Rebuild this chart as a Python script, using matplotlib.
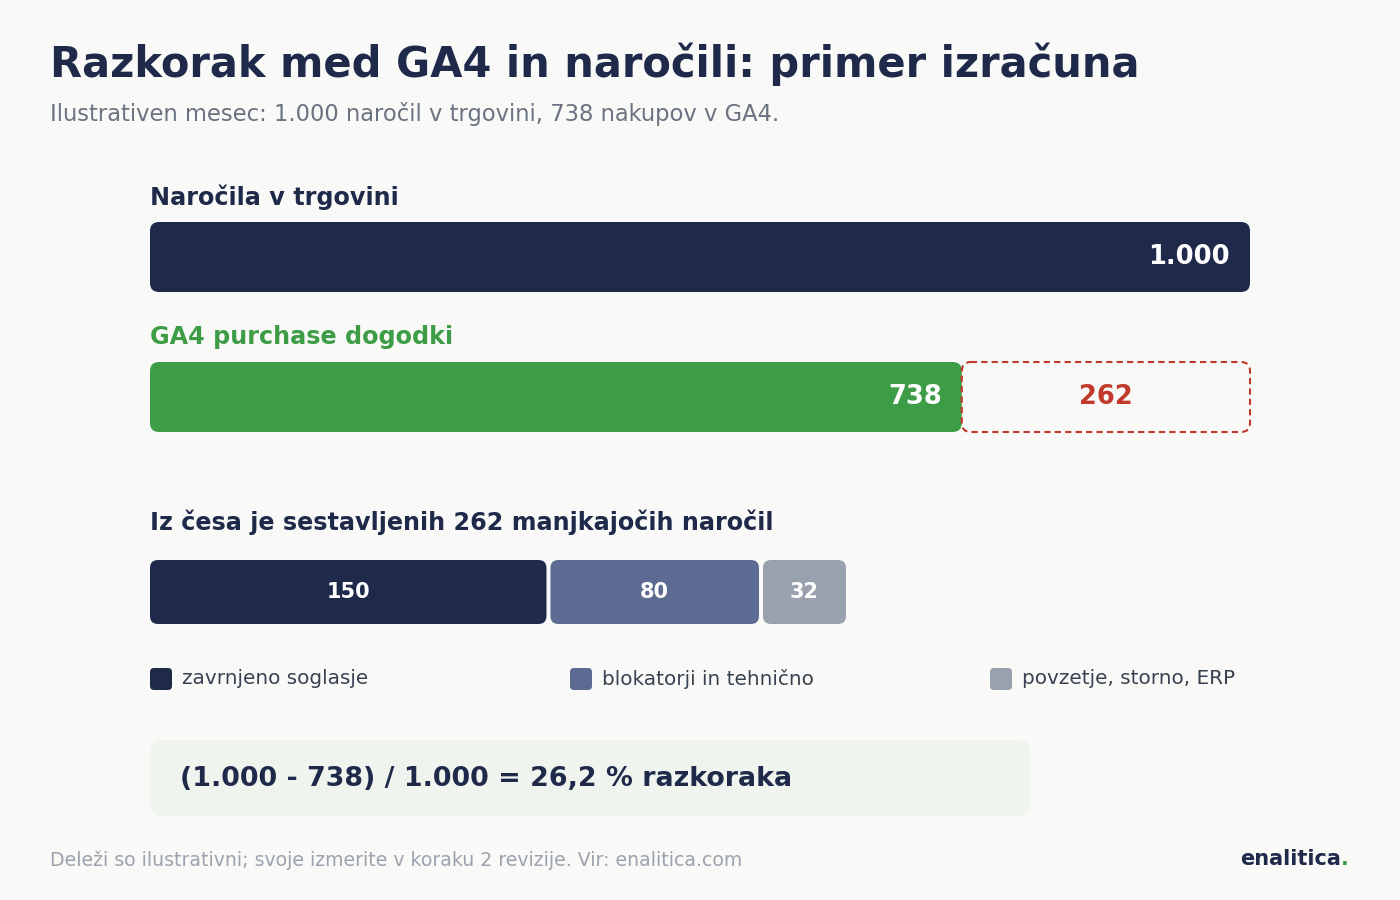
import matplotlib.pyplot as plt
from matplotlib.patches import FancyBboxPatch

plt.rcParams["font.family"] = ["DejaVu Sans"]

# data
total_orders = 1000
ga4_purchases = 738
missing = total_orders - ga4_purchases
parts = [150, 80, 32]
part_labels = ["zavrnjeno soglasje", "blokatorji in tehnično", "povzetje, storno, ERP"]
part_colors = ["#1f2a4b", "#5d6b92", "#9aa1ae"]

NAVY = "#1f2a4b"
GREEN = "#3d9c46"
RED = "#c0392b"
BG = "#f9f9f7"

fig = plt.figure(figsize=(14, 9), dpi=100)
fig.patch.set_facecolor(BG)
base = fig.add_axes([0, 0, 1, 1])
base.set_xlim(0, 1400)
base.set_ylim(900, 0)
base.axis("off")

# scale axes (invisible) used to map values to positions
ax_top = fig.add_axes([150 / 1400, 0.5, 1100 / 1400, 0.1])
ax_top.set_xlim(0, total_orders)
ax_top.axis("off")
ax_brk = fig.add_axes([150 / 1400, 0.3, 696 / 1400, 0.1])
ax_brk.set_xlim(0, missing)
ax_brk.axis("off")


def to_px(ax, v):
    disp = ax.transData.transform((v, 0))
    return base.transData.inverted().transform(disp)[0]


def rbar(x0, x1, y0, h, color, r=9, **kw):
    p = FancyBboxPatch((x0 + r, y0 + r), x1 - x0 - 2 * r, h - 2 * r,
                       boxstyle=f"round,pad={r}", facecolor=color,
                       edgecolor=kw.pop("ec", "none"), **kw)
    base.add_patch(p)


# title
base.text(50, 64, "Razkorak med GA4 in naročili: primer izračuna", fontsize=30,
          fontweight="bold", color=NAVY, va="center")
base.text(50, 114, "Ilustrativen mesec: 1.000 naročil v trgovini, 738 nakupov v GA4.",
          fontsize=16.3, color="#6b7280", va="center")

# store orders
base.text(150, 197, "Naročila v trgovini", fontsize=17.2, fontweight="bold", color=NAVY, va="center")
x0 = to_px(ax_top, 0)
x1 = to_px(ax_top, total_orders)
rbar(x0, x1, 222, 70, NAVY)
base.text(x1 - 20, 257, f"{total_orders:,}".replace(",", "."), fontsize=18.5,
          fontweight="bold", color="white", ha="right", va="center")

# GA4
base.text(150, 337, "GA4 purchase dogodki", fontsize=17.2, fontweight="bold", color=GREEN, va="center")
xg = to_px(ax_top, ga4_purchases)
rbar(x0, xg, 362, 70, GREEN)
base.text(xg - 20, 397, str(ga4_purchases), fontsize=18.5, fontweight="bold",
          color="white", ha="right", va="center")
rbar(xg, x1, 362, 70, "none", ec=RED, linestyle=(0, (3, 2)), linewidth=1.5)
base.text((xg + x1) / 2, 397, str(missing), fontsize=18.5, fontweight="bold",
          color=RED, ha="center", va="center")

# breakdown
base.text(150, 522, f"Iz česa je sestavljenih {missing} manjkajočih naročil", fontsize=17.2,
          fontweight="bold", color=NAVY, va="center")
cum = 0
for i, (v, c) in enumerate(zip(parts, part_colors)):
    a = to_px(ax_brk, cum) + (2 if i > 0 else 0)
    b = to_px(ax_brk, cum + v) - (2 if i < len(parts) - 1 else 0)
    rbar(a, b, 560, 64, c, r=8)
    base.text((a + b) / 2, 592, str(v), fontsize=15, fontweight="bold",
              color="white", ha="center", va="center")
    cum += v

# legend
for i, (lab, c) in enumerate(zip(part_labels, part_colors)):
    lx = 150 + i * 420
    rbar(lx, lx + 22, 668, 22, c, r=4)
    base.text(lx + 32, 679, lab, fontsize=14.4, color="#374151", va="center")

# formula box
rbar(150, 1030, 740, 76, "#eff4ee", r=12)
base.text(180, 779, "(1.000 - 738) / 1.000 = 26,2 % razkoraka", fontsize=19.4,
          fontweight="bold", color=NAVY, va="center")

# footer
base.text(50, 860, "Deleži so ilustrativni; svoje izmerite v koraku 2 revizije. Vir: enalitica.com",
          fontsize=13.6, color="#9ca3af", va="center")
base.text(1341, 859, "enalitica", fontsize=15, fontweight="bold", color=NAVY,
          ha="right", va="center")
base.text(1341, 859, ".", fontsize=15, fontweight="bold", color=GREEN, ha="left", va="center")

fig.savefig("out.png", dpi=100, facecolor=BG)
